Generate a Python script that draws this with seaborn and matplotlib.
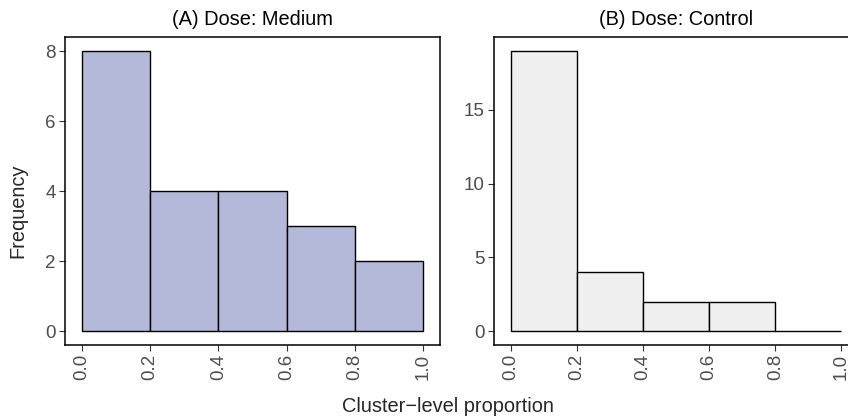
import numpy as np
import pandas as pd
import matplotlib
matplotlib.use("Agg")
import matplotlib.pyplot as plt
import seaborn as sns

bin_edges = [0.0, 0.2, 0.4, 0.6, 0.8, 1.0]
bin_mids = [0.1, 0.3, 0.5, 0.7, 0.9]
counts_medium = [8, 4, 4, 3, 2]
counts_control = [19, 4, 2, 2, 0]
titles = ["(A) Dose: Medium", "(B) Dose: Control"]
fills = ["#b4b8d9", "#f0f0f0"]
xticks = [0.0, 0.2, 0.4, 0.6, 0.8, 1.0]
xtick_labels = ["0.0", "0.2", "0.4", "0.6", "0.8", "1.0"]
yticks_medium = [0, 2, 4, 6, 8]
yticks_control = [0, 5, 10, 15]

sns.set_style("white")
plt.rcParams["font.family"] = ["Liberation Sans", "DejaVu Sans"]

fig = plt.figure(figsize=(8.48, 4.2), dpi=100)
ax1 = fig.add_axes([65/848, 1-345/420, 375/848, 308/420])
ax2 = fig.add_axes([494/848, 1-345/420, 364/848, 308/420])

panels = [
    (ax1, counts_medium, yticks_medium),
    (ax2, counts_control, yticks_control),
]
for i, (ax, counts, yt) in enumerate(panels):
    df = pd.DataFrame({"x": bin_mids, "w": counts})
    sns.histplot(data=df, x="x", weights="w", bins=bin_edges, ax=ax,
                 color=fills[i], alpha=1, edgecolor="black", linewidth=1.0)
    top = max(counts)
    ax.set_ylim(-0.05*top, 1.05*top)
    ax.set_xlim(-0.05, 1.05)
    ax.set_xticks(xticks)
    ax.set_xticklabels(xtick_labels, rotation=90)
    ax.set_yticks(yt)
    ax.set_xlabel("")
    ax.set_ylabel("")
    ax.set_title(titles[i], fontsize=14.4, pad=8.5, color="black")
    ax.tick_params(axis="both", which="both", length=4, width=0.8,
                   color="#333333", labelcolor="#4d4d4d", labelsize=13.5,
                   direction="out", bottom=True, left=True, pad=2.5)
    for s in ax.spines.values():
        s.set_visible(True)
        s.set_color("black")
        s.set_linewidth(1.1)

fig.text(18/848, 1-211/420, "Frequency", rotation=90, ha="center",
         va="center", fontsize=14.4)
fig.text(448/848, 1-406/420, "Cluster\u2212level proportion", ha="center",
         va="center", fontsize=14.4)

fig.savefig("out.png", dpi=100)
